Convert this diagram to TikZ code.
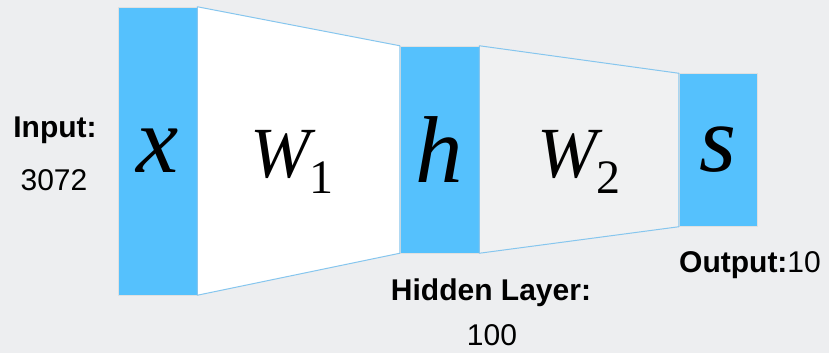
\documentclass[tikz,border=0pt]{standalone}
\usepackage{fontspec}
\setmainfont{Liberation Sans}
\newfontfamily\tmsfont{Liberation Serif}
\usetikzlibrary{positioning,calc}
\definecolor{layerblue}{HTML}{55C1FD}
\definecolor{bggrey}{HTML}{EDEEF0}
\definecolor{edgeblue}{HTML}{86C6EE}

\begin{document}
\begin{tikzpicture}[x=1pt,y=-1pt,
  layer/.style={fill=layerblue,draw=black!12,line width=0.5pt,minimum width=79pt,inner sep=0pt,font=\fontsize{95}{95}\tmsfont\itshape},
  weights/.style={draw=edgeblue,line width=1pt,line join=round},
  wlbl/.style={font=\fontsize{72}{72}\tmsfont\itshape,inner sep=0pt,anchor=base},
  lbl/.style={font=\fontsize{30}{30}\selectfont,inner sep=0pt,anchor=base}]
\fill[bggrey] (0,0) rectangle (829,353);
\useasboundingbox (0,0) rectangle (829,353);
% layers
\node[layer,minimum height=288pt] (x) at (157.5,151) {x};
\node[layer,minimum height=207pt] (h) at (439.5,149.5) {h};
\node[layer,minimum height=153pt,minimum width=78pt] (s) at (718,150) {s};
% weight blocks
\draw[weights,fill=white] (x.north east) -- (h.north west) -- (h.south west) -- (x.south east) -- cycle;
\draw[weights,fill=bggrey!85!white] (h.north east) -- (s.north west) -- (s.south west) -- (h.south east) -- cycle;
\node[wlbl] (w1) at (292,177) {W\raisebox{-16pt}{\fontsize{48}{48}\upshape\selectfont 1}};
\node[wlbl] (w2) at (579,177) {W\raisebox{-16pt}{\fontsize{48}{48}\upshape\selectfont 2}};
% sizes
\node[lbl] (inlbl) at (55,137) {\bfseries Input:};
\node[lbl] (insize) at (54,190) {3072};
\node[lbl] (hidlbl) at (491,300) {\bfseries Hidden Layer:};
\node[lbl] (hidsize) at (492,345) {100};
\node[lbl] (outlbl) at (750,272) {\textbf{Output:}10};
\end{tikzpicture}
\end{document}
